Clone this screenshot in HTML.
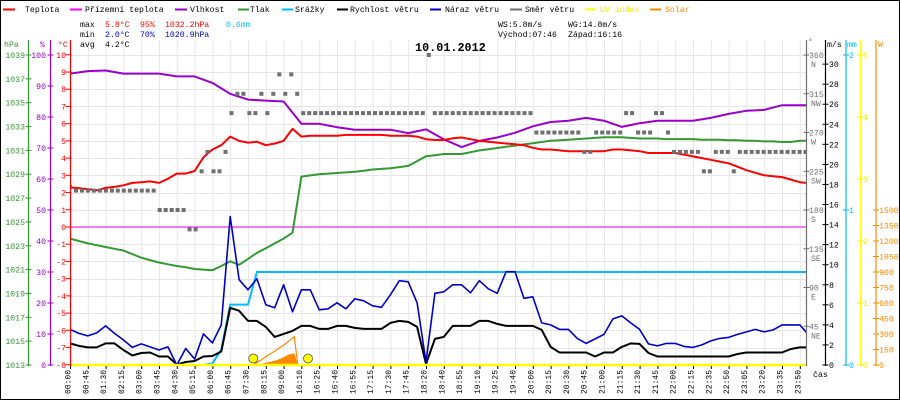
<!DOCTYPE html>
<html><head><meta charset="utf-8"><title>Weather chart 10.01.2012</title>
<style>
html,body{margin:0;padding:0;background:#fff;}
svg{display:block;font-family:"Liberation Mono",monospace;}
</style></head>
<body>
<svg id="chart" width="900" height="400" viewBox="0 0 900 400" xmlns="http://www.w3.org/2000/svg">
<rect x="0.5" y="0.5" width="899" height="399" fill="#fff" stroke="#000" stroke-width="1"/>
<g id="grid"></g>
<g id="legend" font-size="8.2">
  <g><rect x="3" y="8.5" width="12" height="2" fill="#ff0000"/><text x="25" y="12">Teplota</text></g>
  <g><rect x="70" y="8.5" width="12" height="2" fill="#ff00ff"/><text x="85" y="12">Přízemní teplota</text></g>
  <g><rect x="175" y="8.5" width="12" height="2" fill="#9900cc"/><text x="190" y="12">Vlhkost</text></g>
  <g><rect x="238" y="8.5" width="11" height="2" fill="#339933"/><text x="250" y="12">Tlak</text></g>
  <g><rect x="282" y="8.5" width="11" height="2" fill="#00bbff"/><text x="295" y="12">Srážky</text></g>
  <g><rect x="337" y="8.5" width="11" height="2" fill="#000"/><text x="350" y="12">Rychlost větru</text></g>
  <g><rect x="430" y="8.5" width="11" height="2" fill="#0000cc"/><text x="445" y="12">Náraz větru</text></g>
  <g><rect x="510" y="8.5" width="12" height="2" fill="#707070"/><text x="525" y="12">Směr větru</text></g>
  <g><rect x="585" y="8.5" width="11" height="2" fill="#ffff00"/><text x="600" y="12" fill="#eeee00">UV index</text></g>
  <g><rect x="650" y="8.5" width="11" height="2" fill="#ff8800"/><text x="665" y="12" fill="#ff8800">Solar</text></g>
</g>
<g id="stats" font-size="8.2">
  <text x="80" y="27">max</text>
  <text x="105" y="27" fill="#ff0000">5.8°C</text>
  <text x="140" y="27" fill="#ff0000">95%</text>
  <text x="165" y="27" fill="#ff0000">1032.2hPa</text>
  <text x="226" y="27" fill="#00bbff">0.6mm</text>
  <text x="80" y="37">min</text>
  <text x="105" y="37" fill="#0000cc">2.0°C</text>
  <text x="140" y="37" fill="#0000cc">70%</text>
  <text x="165" y="37" fill="#0000cc">1020.9hPa</text>
  <text x="80" y="47">avg</text>
  <text x="105" y="47">4.2°C</text>
  <text x="498" y="27">WS:5.8m/s</text>
  <text x="568" y="27">WG:14.8m/s</text>
  <text x="498" y="37">Východ:07:46</text>
  <text x="568" y="37">Západ:16:16</text>
</g>
<text x="415" y="51" font-size="11.8" font-weight="bold">10.01.2012</text>
<g id="series"></g>
<g id="axes" font-size="8.2"></g>
</svg>
<script>
// ---------- data ----------
const timeLabels = ["00:00","00:45","01:30","02:15","03:00","03:45","04:30","05:15","06:00","06:45","07:30","08:15","09:00","16:10","16:25","16:40","16:55","17:15","17:30","17:45","18:20","18:40","18:55","19:10","19:25","19:40","20:00","20:15","20:30","20:45","21:00","21:15","21:30","21:45","22:00","22:15","22:35","22:50","23:05","23:20","23:35","23:50"];
// half-step series (index 0, 0.5, 1, ...)
const tempValues = [2.3,2.25,2.2,2.13,2.27,2.33,2.42,2.56,2.6,2.65,2.56,2.8,3.1,3.1,3.25,4.05,4.5,4.75,5.25,5.0,4.9,4.95,4.75,4.85,5.0,5.7,5.25,5.3,5.3,5.3,5.3,5.35,5.35,5.35,5.35,5.35,5.3,5.3,5.3,5.25,5.1,5.05,5.05,5.15,5.2,5.1,5.0,4.95,4.9,4.85,4.8,4.75,4.6,4.5,4.5,4.45,4.4,4.4,4.4,4.4,4.4,4.5,4.5,4.45,4.4,4.3,4.3,4.3,4.3,4.2,4.1,4.0,3.9,3.8,3.7,3.5,3.3,3.15,3.0,2.95,2.9,2.75,2.6,2.55];
const pressureValues = [1023.6,1023.4,1023.2,1023.05,1022.9,1022.75,1022.6,1022.3,1022.0,1021.8,1021.6,1021.45,1021.3,1021.2,1021.05,1021.0,1020.95,1021.3,1021.7,1021.4,1021.9,1022.4,1022.8,1023.2,1023.6,1024.1,1028.8,1028.9,1029.0,1029.05,1029.1,1029.15,1029.2,1029.3,1029.4,1029.45,1029.5,1029.6,1029.7,1030.1,1030.5,1030.6,1030.7,1030.7,1030.7,1030.85,1031.0,1031.1,1031.2,1031.3,1031.4,1031.5,1031.6,1031.7,1031.8,1031.85,1031.9,1031.95,1032.0,1032.05,1032.1,1032.1,1032.1,1032.05,1032.0,1032.0,1032.0,1031.95,1031.95,1031.95,1031.95,1031.9,1031.9,1031.9,1031.85,1031.85,1031.8,1031.8,1031.75,1031.75,1031.7,1031.7,1031.8,1031.8];
const windValues = [2.15,1.9,1.75,1.75,2.15,2.15,1.5,0.95,1.2,1.25,0.85,0.85,0.05,0.3,0.4,0.85,0.9,1.35,5.7,5.4,4.4,4.4,3.8,2.8,3.1,3.4,3.9,3.9,3.6,3.6,3.9,3.9,3.7,3.6,3.6,3.6,4.2,4.4,4.3,3.8,0.1,2.6,2.8,3.9,3.9,3.9,4.4,4.4,4.1,3.9,3.9,3.9,3.9,3.5,1.8,1.25,1.25,1.25,1.25,0.85,1.25,1.25,1.8,2.15,2.1,1.2,0.85,0.85,0.85,0.85,0.85,0.85,0.85,0.85,0.85,1.1,1.25,1.25,1.25,1.25,1.25,1.6,1.75,1.75];
const gustValues = [3.55,3.15,2.9,3.2,3.9,3.15,2.5,1.75,2.1,1.8,1.5,1.8,0.0,1.65,0.6,3.1,2.2,4.0,14.8,8.5,7.5,8.6,6.0,5.7,8.0,5.3,7.5,7.5,5.5,5.6,6.2,5.6,6.6,6.4,5.9,5.75,7.0,8.4,8.3,6.2,0.3,7.15,7.3,8.0,8.0,7.2,8.4,7.6,7.15,9.3,9.3,6.65,6.8,4.2,4.0,3.55,3.55,2.65,2.15,2.6,3.05,4.6,4.9,4.2,3.55,2.1,1.9,2.15,2.15,1.85,1.75,2.0,2.4,2.65,2.75,3.05,3.3,3.55,3.3,3.5,4.0,4.0,4.0,3.0];
const rainValues = [0,0,0,0,0,0,0,0,0,0,0,0,0,0,0,0,0.01,0.1,0.39,0.39,0.39,0.6,0.6,0.6,0.6,0.6,0.6,0.6,0.6,0.6,0.6,0.6,0.6,0.6,0.6,0.6,0.6,0.6,0.6,0.6,0.6,0.6,0.6,0.6,0.6,0.6,0.6,0.6,0.6,0.6,0.6,0.6,0.6,0.6,0.6,0.6,0.6,0.6,0.6,0.6,0.6,0.6,0.6,0.6,0.6,0.6,0.6,0.6,0.6,0.6,0.6,0.6,0.6,0.6,0.6,0.6,0.6,0.6,0.6,0.6,0.6,0.6,0.6,0.6];
const uvValues = [0,0,0,0,0,0,0, 0,0,0,0,0,0,0, 0,0,0,0,0,0,0, 0,0,0,0,0,0,0, 0,0,0,0,0,0,0, 0,0,0,0,0,0,0, 0,0,0,0,0,0,0, 0,0,0,0,0,0,0, 0,0,0,0,0,0,0, 0,0,0,0,0,0,0, 0,0,0,0,0,0,0, 0,0,0,0,0,0,0];
// whole-step series (index 0, 1, 2, ...)
const humidityValues = [94,94.8,95,94,94,94,93.1,93.1,91,87.5,85.6,85.3,85,77.8,77.8,76.7,75.9,75.9,75.9,74.8,76,72.8,70.3,72.3,73.4,74.9,77,78.4,78.8,79.7,78.8,76.8,78,78.8,78.8,78.8,79.7,81,82,82.3,83.8,83.8,83.8];
const feltTempValues = [0,0,0,0,0,0,0,0,0,0,0,0,0,0,0,0,0,0,0,0,0,0,0,0,0,0,0,0,0,0,0,0,0,0,0,0,0,0,0,0,0,0,0];
// solar (time index -> W)
const solarIdx = [10.28,10.7,11.0,11.5,11.9,12.25,12.6,12.8];
const solarArea = [0,10,22,42,65,100,113,0];
const solarLine = [0,45,80,135,180,225,274,0];
const sunIdx = [10.3,13.37];
// wind direction samples (degrees)
const directionValues = [207,202.5,202.5,202.5,202.5,202.5,202.5,202.5,202.5,202.5,202.5,202.5,202.5,202.5,202.5,180,180,180,180,180,157.5,157.5,225,247.5,225,225,247.5,292.5,315,315,292.5,292.5,315,292.5,315,337.5,315,337.5,315,292.5,292.5,292.5,292.5,292.5,292.5,292.5,292.5,292.5,292.5,292.5,292.5,292.5,292.5,292.5,292.5,292.5,292.5,292.5,292.5,292.5,360,292.5,292.5,292.5,292.5,292.5,292.5,292.5,292.5,292.5,292.5,292.5,292.5,292.5,292.5,292.5,292.5,292.5,270,270,270,270,270,270,270,270,247.5,247.5,270,270,270,270,270,292.5,292.5,270,270,270,292.5,292.5,270,247.5,247.5,247.5,247.5,247.5,225,225,247.5,247.5,247.5,225,247.5,247.5,247.5,247.5,247.5,247.5,247.5,247.5,247.5,247.5,247.5,247.5];
// axis ticks
const pressureTicks = [1013,1015,1017,1019,1021,1023,1025,1027,1029,1031,1033,1035,1037,1039];
const humidityTicks = [0,10,20,30,40,50,60,70,80,90,100];
const tempTicks = [-8,-7,-6,-5,-4,-3,-2,-1,0,1,2,3,4,5,6,7,8,9,10];
const dirTicks = [45,90,135,180,225,270,315,360];
const dirNames = ["NE","E","SE","S","SW","W","NW","N"];
const windTicks = [0,2,4,6,8,10,12,14,16,18,20,22,24,26,28,30];
const rainTicks = [0,1,2];
const uvTicks = [0,1,2,3,4,5];
const solarTicks = [0,150,300,450,600,750,900,1050,1200,1350,1500];

// ---------- axis functions ----------
const X = k => 70 + k*17.8;
const dirX = i => 70 + i*5.98;
const yT = t => 227 - t*17.22;
const yH = h => 365 - h*3.1;
const yP = p => 365 - (p-1013)*11.923;
const yW = v => 365 - v*10.03;
const yD = d => 365 - d*0.8611;
const yR = m => 365 - m*155;
const yS = w => 365 - w*0.10333;
const yU = u => 365 - u*62;

const NS = "http://www.w3.org/2000/svg";
function mk(tag, attrs, parent){
  const e = document.createElementNS(NS, tag);
  for (const k in attrs) e.setAttribute(k, attrs[k]);
  parent.appendChild(e);
  return e;
}
const grid = document.getElementById('grid');
const series = document.getElementById('series');
const axes = document.getElementById('axes');

// grid
timeLabels.forEach((lab,k)=>{
  const l = mk('line',{x1:X(k)+0.5,x2:X(k)+0.5,y1:40,y2:365,stroke:'#e6e6e6','stroke-width':1},grid);
  
  
});
tempTicks.forEach(t=>{
  const l = mk('line',{x1:70,x2:806,y1:Math.round(yT(t))+0.5,y2:Math.round(yT(t))+0.5,stroke:'#e6e6e6','stroke-width':1},grid);
  
  
});

// clip
const defs = mk('defs',{},series);
const cp = mk('clipPath',{id:'plotclip'},defs);
mk('rect',{x:70,y:38,width:736,height:330},cp);
const plot = mk('g',{'clip-path':'url(#plotclip)'},series);



function poly(vals, step, yf, color, w){
  const pts = vals.map((v,i)=>X(i*step).toFixed(1)+','+yf(v).toFixed(1)).join(' ');
  return mk('polyline',{points:pts,fill:'none',stroke:color,'stroke-width':w,'stroke-linejoin':'round'},plot);
}
let e;
e = poly(feltTempValues,1,yT,'#ff00ff',1);


e = poly(pressureValues,0.5,yP,'#339933',2);


e = poly(humidityValues,1,yH,'#9900cc',2);


e = poly(tempValues,0.5,yT,'#ff0000',2);



directionValues.forEach((d,i)=>{
  const r = mk('rect',{x:(dirX(i)-2).toFixed(1),y:(yD(d)-2).toFixed(1),width:4,height:4,fill:'#707070'},plot);
  
  
});

e = poly(rainValues,0.5,yR,'#00bbff',2);



// solar
const areaPts = solarIdx.map((k,i)=>X(k).toFixed(1)+','+yS(solarArea[i]).toFixed(1)).join(' ');
e = mk('polygon',{points:areaPts,fill:'#ff8800'},plot);


e = mk('polyline',{points:solarIdx.map((k,i)=>X(k).toFixed(1)+','+yS(solarLine[i]).toFixed(1)).join(' '),fill:'none',stroke:'#ff8800','stroke-width':1.2},plot);



e = poly(windValues,0.5,yW,'#000000',2);


e = poly(gustValues,0.5,yW,'#0000cc',1.6);


e = poly(uvValues,0.5,yU,'#ffff00',2.5);



sunIdx.forEach(k=>{
  const c = mk('circle',{cx:X(k).toFixed(1),cy:358.5,r:4.5,fill:'#ffff00',stroke:'#555','stroke-width':0.8},series);
  
  
});

// ---------- axes ----------
function vline(x,color,name){
  const l = mk('line',{x1:x,x2:x,y1:40,y2:366,stroke:color,'stroke-width':1.2},axes);
  
  
}
function label(x,y,txt,color,anchor,name){
  const t = mk('text',{x:x,y:y,fill:color,'text-anchor':anchor},axes);
  t.textContent = txt;
  
  
  return t;
}
function tick(x,y,color){
  mk('line',{x1:x-3,x2:x+3,y1:y,y2:y,stroke:color,'stroke-width':1},axes);
}
vline(28.5,'#339933','pressure-axis');
vline(50.5,'#9900cc','humidity-axis');
vline(70.5,'#ff0000','temperature-axis');
label(4,47,'hPa','#339933','start','pressure-axis-title');
label(40,47,'%','#9900cc','start','humidity-axis-title');
label(58,47,'°C','#ff0000','start','temperature-axis-title');
pressureTicks.forEach(p=>{tick(28.5,yP(p),'#339933');label(25,yP(p)+3,String(p),'#339933','end','pressure-tick-label');});
humidityTicks.forEach(h=>{tick(50.5,yH(h),'#9900cc');label(46,yH(h)+3,String(h),'#9900cc','end','humidity-tick-label');});
tempTicks.forEach(t=>{tick(68.5,yT(t),'#ff0000');label(66,yT(t)+3,String(t),'#ff0000','end','temperature-tick-label');});

vline(806.5,'#707070','wind-direction-axis');
vline(825.5,'#000000','wind-speed-axis');
vline(846,'#00bbff','rain-axis');
vline(860.5,'#ffff00','uv-axis');
vline(876,'#ff8800','solar-axis');
label(808,44,'°','#707070','start','wind-direction-axis-title');
label(827,47,'m/s','#000','start','wind-speed-axis-title');
label(847,47,'mm','#00bbff','start','rain-axis-title');
label(878,47,'W','#ff8800','start','solar-axis-title');
dirTicks.forEach((d,i)=>{tick(806.5,yD(d),'#707070');label(809,yD(d)+3,String(d),'#707070','start','direction-tick-label');label(811,yD(d)+12,dirNames[i],'#707070','start','direction-name-label');});
windTicks.forEach(v=>{tick(825.5,yW(v),'#000');label(829,yW(v)+3,String(v),'#000','start','wind-speed-tick-label');});
rainTicks.forEach(m=>{tick(846,yR(m),'#00bbff');label(849,yR(m)+3,String(m),'#00bbff','start','rain-tick-label');});
uvTicks.forEach(u=>{tick(860.5,yU(u),'#eeee00');label(863,yU(u)+3,String(u),'#eeee00','start','uv-tick-label');});
solarTicks.forEach(w=>{tick(876,yS(w),'#ff8800');label(879,yS(w)+3,String(w),'#ff8800','start','solar-tick-label');});

timeLabels.forEach((lab,k)=>{
  mk('line',{x1:X(k)+0.5,x2:X(k)+0.5,y1:366,y2:369,stroke:'#000','stroke-width':1},axes);
  const t = mk('text',{transform:'translate('+(X(k)+0.5).toFixed(1)+',394) rotate(-90)',fill:'#000','font-size':'8'},axes);
  t.textContent = lab;
  
  
});
label(813,377,'čas','#000','start','time-axis-title');
</script>
</body></html>
